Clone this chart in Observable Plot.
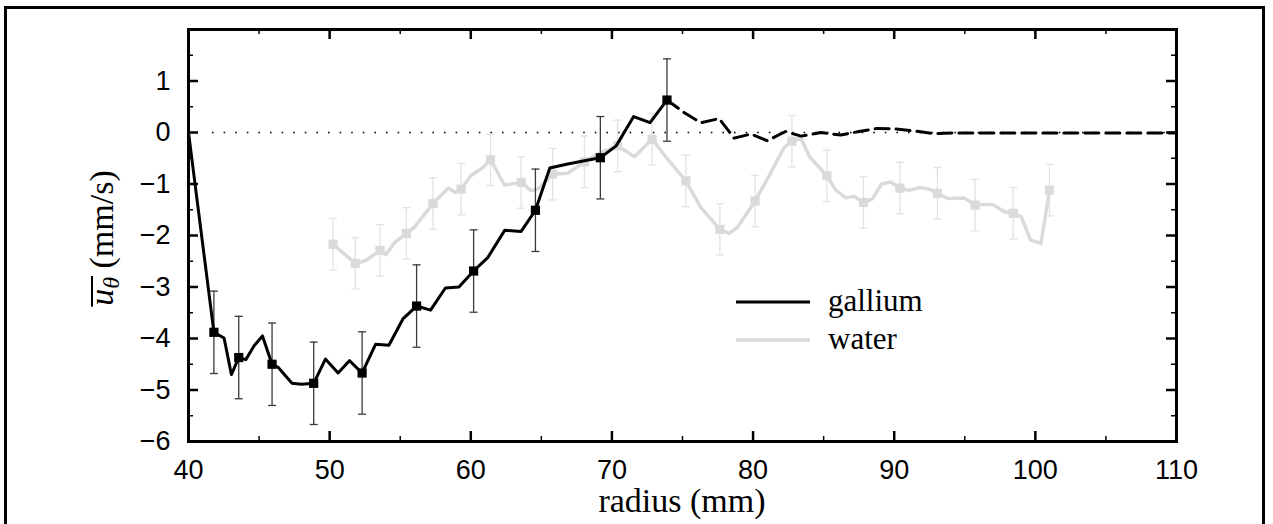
<!DOCTYPE html>
<html>
<head>
<meta charset="utf-8">
<script src="https://cdn.jsdelivr.net/npm/d3@7"></script>
<script src="https://cdn.jsdelivr.net/npm/@observablehq/plot@0.6"></script>
<style>
  html, body { margin: 0; padding: 0; background: #fff; overflow: hidden; }
  #wrap { position: relative; width: 1273px; height: 524px; }
  #border { position: absolute; left: 4px; top: 6px; width: 1261px; height: 600px; border: 3px solid #000; box-sizing: border-box; pointer-events: none; }
  #chart { position: absolute; left: 0; top: 0; }
  svg text.serif { font-family: 'Liberation Serif', 'Times New Roman', serif !important; }
</style>
</head>
<body>
<div id="wrap"><div id="chart"></div><div id="border"></div></div>
<script>
// ---- data ----
const galliumSolidX = [40, 41.8, 42.52, 43.04, 43.56, 44.06, 44.65, 45.24, 45.92, 46.35, 47.33, 48.0, 48.87, 49.7, 50.6, 51.4, 52.3, 53.26, 54.2, 55.19, 56.16, 57.15, 58.2, 59.16, 60.2, 61.2, 62.4, 63.57, 64.58, 65.6, 66.87, 68.05, 69.18, 70.3, 71.54, 72.7, 73.9];
const galliumSolidY = [0, -3.88, -3.99, -4.70, -4.37, -4.41, -4.14, -3.95, -4.50, -4.56, -4.87, -4.89, -4.87, -4.40, -4.67, -4.43, -4.67, -4.11, -4.13, -3.62, -3.37, -3.45, -3.02, -3.0, -2.69, -2.43, -1.90, -1.92, -1.51, -0.69, -0.61, -0.55, -0.49, -0.26, 0.31, 0.19, 0.63];
const galliumDashX = [73.9, 75.1, 76.3, 77.6, 78.66, 79.84, 81.0, 82.3, 83.4, 84.8, 86.2, 87.5, 88.8, 90.0, 91.4, 92.8, 94.2, 97, 100, 104, 107, 110];
const galliumDashY = [0.63, 0.39, 0.19, 0.27, -0.11, -0.03, -0.16, 0.02, -0.07, 0.0, -0.05, 0.02, 0.08, 0.07, 0.03, -0.02, -0.01, -0.01, -0.01, -0.01, -0.01, -0.01];
const galliumMarkX = [41.8, 43.56, 45.92, 48.87, 52.3, 56.16, 60.2, 64.58, 69.18, 73.9];
const galliumMarkY = [-3.88, -4.37, -4.50, -4.87, -4.67, -3.37, -2.69, -1.51, -0.49, 0.63];
const galliumErr = 0.8;

const waterX = [50.24, 51.82, 52.6, 53.57, 54.0, 54.6, 55.43, 56.0, 57.32, 58.4, 58.9, 59.32, 60.0, 60.86, 61.4, 62.4, 63.57, 64.27, 64.75, 65.8, 66.87, 68.05, 69.2, 70.4, 71.6, 72.84, 73.95, 75.24, 76.3, 77.65, 78.3, 78.9, 80.14, 81.26, 82.2, 82.75, 83.4, 84.0, 85.23, 85.86, 86.57, 87.15, 87.82, 88.45, 89.1, 89.75, 90.41, 91.05, 91.83, 92.47, 93.06, 93.77, 94.95, 95.73, 96.37, 97.0, 97.8, 98.43, 99.0, 99.66, 100.4, 101.0];
const waterY = [-2.17, -2.54, -2.48, -2.29, -2.37, -2.14, -1.96, -1.84, -1.38, -1.08, -1.16, -1.10, -0.84, -0.68, -0.53, -1.02, -0.97, -1.13, -1.10, -0.81, -0.79, -0.57, -0.39, -0.26, -0.47, -0.13, -0.52, -0.94, -1.46, -1.88, -1.96, -1.84, -1.33, -0.78, -0.29, -0.17, -0.11, -0.47, -0.84, -1.12, -1.27, -1.24, -1.36, -1.29, -1.0, -0.96, -1.08, -1.12, -1.07, -1.10, -1.18, -1.28, -1.27, -1.41, -1.40, -1.40, -1.54, -1.57, -1.64, -2.09, -2.15, -1.12];
const waterMarkX = [50.24, 51.82, 53.57, 55.43, 57.32, 59.32, 61.4, 63.57, 65.8, 68.05, 70.4, 72.84, 75.24, 77.65, 80.14, 82.75, 85.23, 87.82, 90.41, 93.06, 95.73, 98.43, 101.0];
const waterMarkY = [-2.17, -2.54, -2.29, -1.96, -1.38, -1.10, -0.53, -0.97, -0.81, -0.57, -0.26, -0.13, -0.94, -1.88, -1.33, -0.17, -0.84, -1.36, -1.08, -1.18, -1.41, -1.57, -1.12];
const waterErr = 0.5;

const zeroLineX = [41.7, 110];
const xMajorTicks = [40, 50, 60, 70, 80, 90, 100, 110];
const xMinorTicks = [45, 55, 65, 75, 85, 95, 105];
const yLabelTicks = [-6, -5, -4, -3, -2, -1, 0, 1];
const yMajorTicks = [-6, -5, -4, -3, -2, -1, 0, 1, 2];
const yMinorTicks = [-5.5, -4.5, -3.5, -2.5, -1.5, -0.5, 0.5, 1.5];
const seriesNames = ["gallium", "water"];

// ---- tables ----
const toPts = (xs, ys) => xs.map((x, i) => ({x, y: ys[i]}));
const galliumSolid = toPts(galliumSolidX, galliumSolidY);
const galliumDash = toPts(galliumDashX, galliumDashY);
const galliumMarks = toPts(galliumMarkX, galliumMarkY).map(d => ({...d, lo: d.y - galliumErr, hi: d.y + galliumErr}));
const water = toPts(waterX, waterY);
const waterMarks = toPts(waterMarkX, waterMarkY).map(d => ({...d, lo: d.y - waterErr, hi: d.y + waterErr}));

const W = 1273, H = 524, mL = 188, mR = 97, mT = 29, mB = 83;
const innerW = W - mL - mR, innerH = H - mT - mB;
const capSymbol = { draw(ctx) { ctx.moveTo(-4, 0); ctx.lineTo(4, 0); } };
const gray = "#dadada";
const intFmt = d => (d < 0 ? "\u2212" + Math.abs(d) : String(d));

const svg = Plot.plot({
  width: W, height: H,
  marginLeft: mL, marginRight: mR, marginTop: mT, marginBottom: mB,
  x: {domain: [40, 110]},
  y: {domain: [-6, 2]},
  style: {background: "transparent", fontFamily: "'Liberation Sans', Arial, sans-serif"},
  marks: [
    // zero dotted reference
    Plot.ruleY([0], {x1: zeroLineX[0], x2: zeroLineX[1], stroke: "#000", strokeWidth: 1.6, strokeDasharray: "1.6,10"}),
    // water
    Plot.ruleX(waterMarks, {x: "x", y1: "lo", y2: "hi", stroke: "#e2e2e2", strokeWidth: 1.3}),
    Plot.dot(waterMarks, {x: "x", y: "lo", symbol: capSymbol, stroke: "#e2e2e2", strokeWidth: 1.3, fill: "none"}),
    Plot.dot(waterMarks, {x: "x", y: "hi", symbol: capSymbol, stroke: "#e2e2e2", strokeWidth: 1.3, fill: "none"}),
    Plot.line(water, {x: "x", y: "y", stroke: gray, strokeWidth: 3.5, curve: "linear"}),
    Plot.dot(waterMarks, {x: "x", y: "y", symbol: "square", r: 5.2, fill: gray, stroke: "none"}),
    // gallium
    Plot.ruleX(galliumMarks, {x: "x", y1: "lo", y2: "hi", stroke: "#3a3a3a", strokeWidth: 1.3}),
    Plot.dot(galliumMarks, {x: "x", y: "lo", symbol: capSymbol, stroke: "#3a3a3a", strokeWidth: 1.3, fill: "none"}),
    Plot.dot(galliumMarks, {x: "x", y: "hi", symbol: capSymbol, stroke: "#3a3a3a", strokeWidth: 1.3, fill: "none"}),
    Plot.line(galliumSolid, {x: "x", y: "y", stroke: "#000", strokeWidth: 3}),
    Plot.line(galliumDash, {x: "x", y: "y", stroke: "#000", strokeWidth: 3, strokeDasharray: "14,7"}),
    Plot.dot(galliumMarks, {x: "x", y: "y", symbol: "square", r: 5.2, fill: "#000", stroke: "none"}),
    // inward ticks
    Plot.tickX(xMajorTicks, {x: d => d, insetTop: innerH - 10, stroke: "#000", strokeWidth: 2.5}),
    Plot.tickX(xMajorTicks, {x: d => d, insetBottom: innerH - 10, stroke: "#000", strokeWidth: 2.5}),
    Plot.tickX(xMinorTicks, {x: d => d, insetTop: innerH - 5, stroke: "#000", strokeWidth: 1.5}),
    Plot.tickX(xMinorTicks, {x: d => d, insetBottom: innerH - 5, stroke: "#000", strokeWidth: 1.5}),
    Plot.tickY(yMajorTicks, {y: d => d, insetRight: innerW - 10, stroke: "#000", strokeWidth: 2.5}),
    Plot.tickY(yMajorTicks, {y: d => d, insetLeft: innerW - 10, stroke: "#000", strokeWidth: 2.5}),
    Plot.tickY(yMinorTicks, {y: d => d, insetRight: innerW - 5, stroke: "#000", strokeWidth: 1.5}),
    Plot.tickY(yMinorTicks, {y: d => d, insetLeft: innerW - 5, stroke: "#000", strokeWidth: 1.5}),
    // axis labels (tick text)
    Plot.axisX(xMajorTicks, {anchor: "bottom", tickSize: 0, tickPadding: 18, fontSize: 27, label: null, fill: "#000", tickFormat: intFmt}),
    Plot.axisY(yLabelTicks, {anchor: "left", tickSize: 0, tickPadding: 18, fontSize: 27, label: null, fill: "#000", tickFormat: intFmt}),
    Plot.frame({stroke: "#000", strokeWidth: 3})
  ]
});

document.getElementById("chart").appendChild(svg);

const s = d3.select(svg);

// x axis title
s.append("text").attr("class", "serif")
  .attr("x", mL + innerW / 2).attr("y", 512)
  .attr("text-anchor", "middle")
  .attr("font-size", 34)
  .attr("fill", "#000")
  .text("radius (mm)");

// y axis title with overline
const yg = s.append("g").attr("transform", "translate(113,238) rotate(-90)");
const yt = yg.append("text").attr("class", "serif")
  .attr("text-anchor", "middle")
  .attr("font-size", 34).attr("fill", "#000");
yt.append("tspan").attr("font-style", "italic").text("u");
yt.append("tspan").attr("font-style", "italic").attr("font-size", 24).attr("dy", 6).text("θ");
yt.append("tspan").attr("dy", -6).text(" (mm/s)");
const tn = yt.node();
const ox0 = tn.getStartPositionOfChar(0).x - 1;
const ox1 = tn.getEndPositionOfChar(1).x + 1;
yg.append("line").attr("x1", ox0).attr("x2", ox1).attr("y1", -21).attr("y2", -21)
  .attr("stroke", "#000").attr("stroke-width", 2);

// legend
const legend = s.append("g");
const legendStyles = [{stroke: "#000", w: 3, y: 302}, {stroke: gray, w: 3.5, y: 340}];
seriesNames.forEach((name, i) => {
  const st = legendStyles[i];
  legend.append("line").attr("x1", 736).attr("x2", 810).attr("y1", st.y).attr("y2", st.y)
    .attr("stroke", st.stroke).attr("stroke-width", st.w);
  legend.append("text").attr("class", "serif").attr("x", 828).attr("y", st.y + 9)
    .attr("text-anchor", "start")
    .attr("font-size", 31).attr("fill", "#000").text(name);
});
</script>
</body>
</html>
